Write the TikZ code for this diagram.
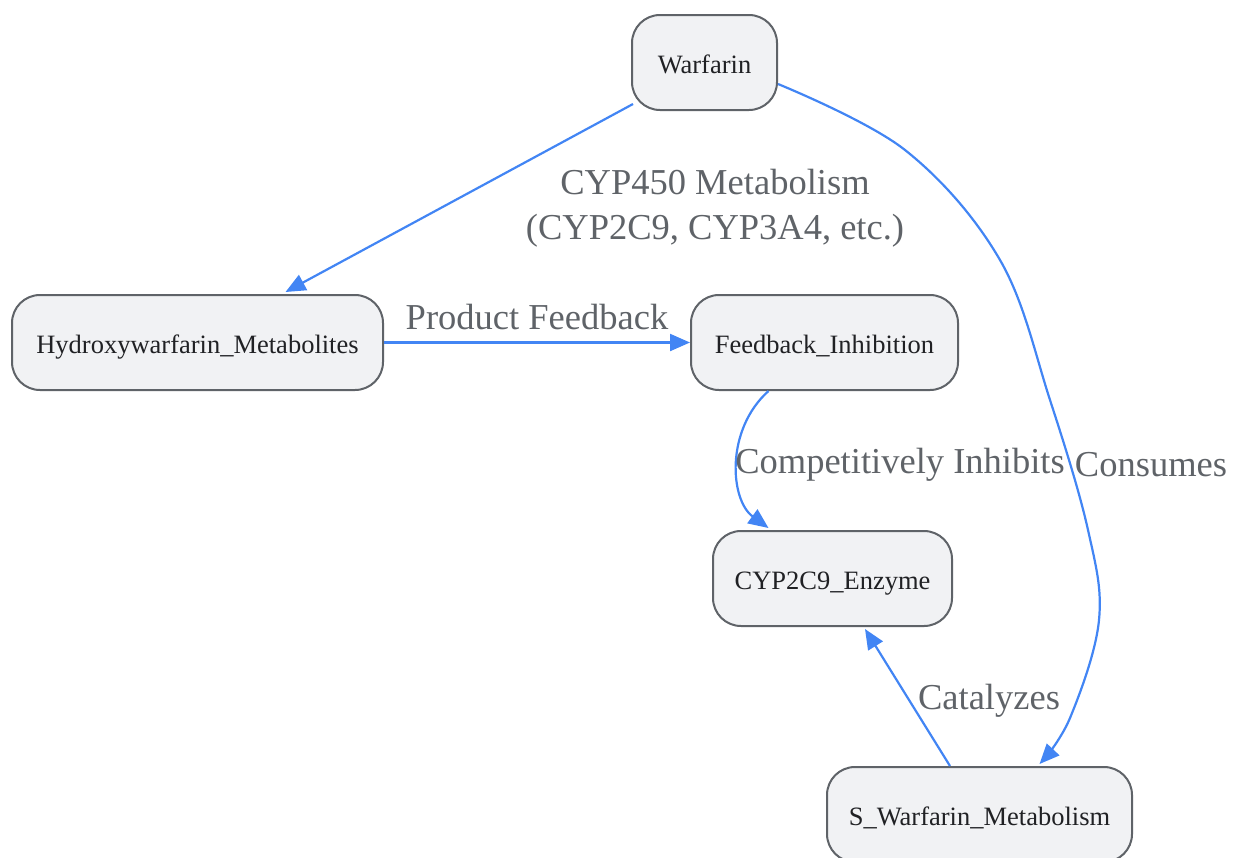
\documentclass[tikz,border=0pt]{standalone}
\usepackage{fontspec}
\setmainfont{Liberation Serif}
\usetikzlibrary{arrows.meta,positioning}
\definecolor{nodefill}{HTML}{F1F2F4}
\definecolor{nodeline}{HTML}{5F6368}
\definecolor{edgeblue}{HTML}{4285F4}
\definecolor{labelgray}{HTML}{5F6368}
\definecolor{nodetext}{HTML}{202124}
\begin{document}
\begin{tikzpicture}[x=1pt,y=-1pt,
  box/.style={draw=nodeline, line width=2pt, fill=nodefill, rounded corners=28pt,
    minimum height=95pt, inner sep=0pt, text height=22pt, text depth=0pt,
    text=nodetext, font=\fontsize{26.5}{30}\selectfont},
  edge/.style={draw=edgeblue, line width=2.2pt, -{Triangle[length=20pt,width=17pt]}},
  elabel/.style={text=labelgray, font=\fontsize{36.5}{45}\selectfont, align=center, inner sep=0pt}
]
\useasboundingbox (0,0) rectangle (1233,857);
\node[box, minimum width=145pt] (W) at (704.5,62.5) {Warfarin};
\node[box, minimum width=371pt] (H) at (197.5,342.5) {Hydroxywarfarin\_Metabolites};
\node[box, minimum width=267pt] (F) at (824.5,342.5) {Feedback\_Inhibition};
\node[box, minimum width=239pt] (C) at (832.5,578.5) {CYP2C9\_Enzyme};
\node[box, minimum width=305pt] (S) at (979.5,814.5) {S\_Warfarin\_Metabolism};

\draw[edge] ([xshift=2pt,yshift=7pt]W.south west) -- ([xshift=88pt,yshift=2pt]H.north);
\draw[edge] (H.east) -- (F.west);
\draw[edge] ([xshift=-56pt]F.south) .. controls (725,430) and (730,500) .. ([xshift=-64pt,yshift=2pt]C.north);
\draw[edge] plot[smooth, tension=0.6] coordinates {([yshift=-21.5pt]W.east) (905,150) (1000,260) (1050,400) (1088,530) (1099,620) (1070,718) ([xshift=60pt,yshift=2pt]S.north)};
\draw[edge] ([xshift=-29.5pt]S.north) -- ([xshift=32.5pt,yshift=-2pt]C.south);

\node[elabel] (l1) at (715,208) {CYP450 Metabolism\\(CYP2C9, CYP3A4, etc.)};
\node[elabel] (l2) at (537,317) {Product Feedback};
\node[elabel] (l3) at (900,465) {Competitively Inhibits};
\node[elabel] (l4) at (1151,465) {Consumes};
\node[elabel] (l5) at (989,701) {Catalyzes};
\end{tikzpicture}
\end{document}
